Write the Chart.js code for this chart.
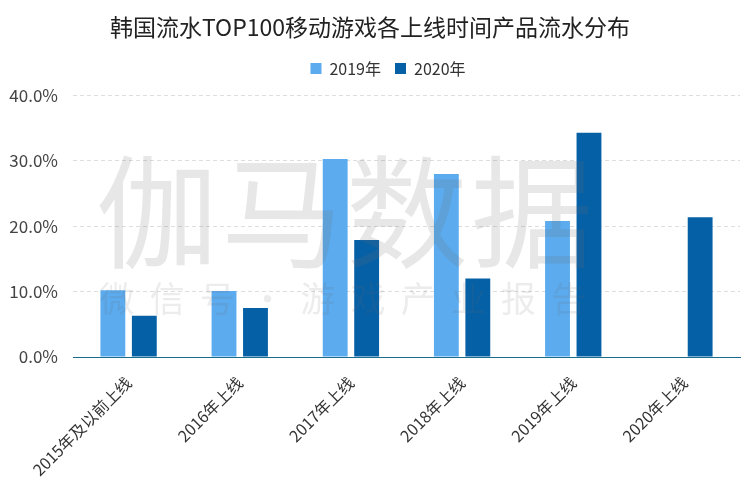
<!DOCTYPE html>
<html>
<head>
<meta charset="utf-8">
<style>
  html, body { margin: 0; padding: 0; background: #fff; }
  #wrap { width: 750px; height: 487px; }
</style>
<script src="https://cdn.jsdelivr.net/npm/chart.js@4"></script>
</head>
<body>
<div id="wrap"><canvas id="chart" width="750" height="487"></canvas></div>
<script>
const categories = ['2015年及以前上线', '2016年上线', '2017年上线', '2018年上线', '2019年上线', '2020年上线'];
const values2019 = [10.2, 10.1, 30.3, 28.0, 20.8, null];
const values2020 = [6.3, 7.5, 17.9, 12.0, 34.3, 21.4];
const yTicks = [0, 10, 20, 30, 40];
const FONT = '"Noto Sans CJK SC", "Noto Sans", sans-serif';

// Faint watermark laid over the bars
const watermark = {
  id: 'watermark',
  afterDatasetsDraw(chart) {
    const ctx = chart.ctx;
    ctx.save();
    ctx.fillStyle = 'rgba(110,110,110,0.17)';
    ctx.textBaseline = 'middle';
    ctx.textAlign = 'center';
    ctx.font = '400 122px ' + FONT;
    ['伽', '马', '数', '据'].forEach((c, i) => ctx.fillText(c, 157 + i * 125, 212));
    ctx.fillStyle = 'rgba(110,110,110,0.13)';
    ctx.font = '400 35px ' + FONT;
    ['微', '信', '号', '·', '游', '戏', '产', '业', '报', '告'].forEach((c, i) => ctx.fillText(c, 117 + i * 50.2, 299));
    ctx.restore();
  }
};

// Legend sits off-centre in the original, nudge it after layout
const legendShift = {
  id: 'legendShift',
  afterLayout(chart) {
    const l = chart.legend;
    l.left += 18;
    l.right += 18;
    l.top -= 9;
    l.bottom -= 9;
  }
};

new Chart(document.getElementById('chart').getContext('2d'), {
  type: 'bar',
  data: {
    labels: categories,
    datasets: [
      { label: '2019年', data: values2019, backgroundColor: '#5BABEE' },
      { label: '2020年', data: values2020, backgroundColor: '#0560A6' }
    ]
  },
  options: {
    responsive: false,
    animation: false,
    devicePixelRatio: 1,
    categoryPercentage: 0.566,
    barPercentage: 0.79,
    layout: { padding: { top: 13, right: 10, left: 0, bottom: 0 } },
    scales: {
      x: {
        grid: { display: false, drawTicks: false },
        border: { color: '#1B6B8C', width: 1 },
        afterFit(scale) { scale.height = 130; },
        ticks: {
          color: '#333',
          font: { family: FONT, size: 16 },
          minRotation: 45,
          maxRotation: 45,
          padding: 16
        }
      },
      y: {
        min: 0,
        max: 40,
        afterFit(scale) { scale.width = 73; },
        afterBuildTicks(scale) { scale.ticks = yTicks.map(v => ({ value: v })); },
        grid: { color: '#DDDDDD', drawTicks: false },
        border: { display: false, dash: [4, 3] },
        ticks: {
          color: '#444',
          font: { family: FONT, size: 17 },
          padding: 15,
          callback: v => v.toFixed(1) + '%'
        }
      }
    },
    plugins: {
      title: {
        display: true,
        text: '韩国流水TOP100移动游戏各上线时间产品流水分布',
        color: '#222',
        font: { family: FONT, size: 23, weight: 'normal' },
        padding: { top: 0, bottom: 15 }
      },
      legend: {
        display: true,
        position: 'top',
        labels: {
          color: '#333',
          font: { family: FONT, size: 16 },
          boxWidth: 11,
          boxHeight: 11,
          padding: 14
        }
      },
      tooltip: { enabled: false }
    }
  },
  plugins: [watermark, legendShift]
});
</script>
</body>
</html>
